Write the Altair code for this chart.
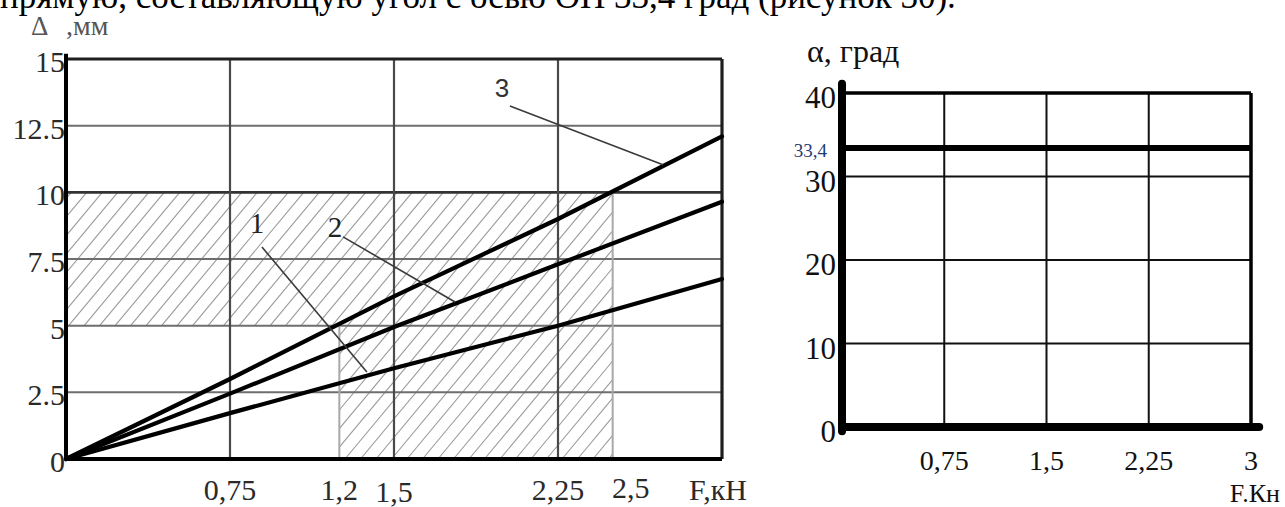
import altair as alt
import pandas as pd
import numpy as np

W, H = 1285, 507

# ---------------- data ----------------
F = [0, 0.75, 1.5, 2.25, 3.0]
delta1 = [0, 1.72, 3.4, 5.0, 6.75]
delta2 = [0, 2.45, 4.95, 7.3, 9.65]
delta3 = [0, 3.0, 6.1, 9.0, 12.1]

y_ticks_L = [0, 2.5, 5, 7.5, 10, 12.5, 15]
y_labels_L = ["0", "2.5", "5", "7.5", "10", "12.5", "15"]
x_grid_L = [0.75, 1.5, 2.25]
x_ticks_L = [0.75, 1.25, 2.25]
x_labels_L = ["0,75", "1,2", "2,25"]
zone_F = [1.25, 2.5]          # light vertical limits of the zone
zone_D = [5, 10]              # zone limits on delta axis

curve_names = ["1", "2", "3"]
curve_label_x = [0.873, 1.230, 1.994]
curve_label_y = [8.81, 8.66, 13.87]
leader_x1 = [0.896, 1.267, 2.030]
leader_y1 = [7.95, 8.33, 13.24]
leader_x2 = [1.376, 1.779, 2.730]
leader_y2 = [3.26, 5.89, 11.03]

F_alpha = [0, 3.0]
alpha = [33.4, 33.4]
y_ticks_R = [0, 10, 20, 30, 40]
y_labels_R = ["0", "10", "20", "30", "40"]
x_ticks_R = [0.75, 1.5, 2.25, 3.0]
x_labels_R = ["0,75", "1,5", "2,25", "3"]

sentence = "прямую, составляющую угол с осью ОП 33,4 град (рисунок 30)."

# ---------------- layout (pixels) ----------------
L_x0, L_x1, L_y0, L_y1 = 66, 722, 459, 59      # left plot: x at F=0/3, y at 0/15
R_x0, R_x1, R_y0, R_y1 = 842, 1251, 427, 93    # right plot: x at F=0/3, y at 0/40

sxL = (L_x1 - L_x0) / 3.0
syL = (L_y0 - L_y1) / 15.0
sxR = (R_x1 - R_x0) / 3.0
syR = (R_y0 - R_y1) / 40.0

xL = alt.Scale(domain=[-L_x0 / sxL, (W - L_x0) / sxL], nice=False, zero=False)
yL = alt.Scale(domain=[-(H - L_y0) / syL, L_y0 / syL], nice=False, zero=False)
xR = alt.Scale(domain=[-R_x0 / sxR, (W - R_x0) / sxR], nice=False, zero=False)
yR = alt.Scale(domain=[-(H - R_y0) / syR, R_y0 / syR], nice=False, zero=False)

SERIF = "Liberation Serif"
SANS = "Liberation Sans"


def rules(df, xs, ys, **kw):
    return alt.Chart(df).mark_rule(**kw).encode(
        x=alt.X("x:Q", scale=xs, axis=None),
        y=alt.Y("y:Q", scale=ys, axis=None),
        x2="x2:Q",
        y2="y2:Q",
    )


def texts(df, xs, ys, **kw):
    return alt.Chart(df).mark_text(**kw).encode(
        x=alt.X("x:Q", scale=xs, axis=None),
        y=alt.Y("y:Q", scale=ys, axis=None),
        text="t:N",
    )


# ---------------- hatch of the zone ----------------
def hatch(rects, sx, sy, m=1.2, step=15.5):
    segs = []
    pr = [(a * sx, b * sy, c * sx, d * sy) for a, b, c, d in rects]
    cmin = min(Y1 - m * X2 for X1, Y1, X2, Y2 in pr)
    cmax = max(Y2 - m * X1 for X1, Y1, X2, Y2 in pr)
    dc = m * step
    c = np.floor(cmin / dc) * dc
    while c <= cmax:
        for X1, Y1, X2, Y2 in pr:
            xa = max(X1, (Y1 - c) / m)
            xb = min(X2, (Y2 - c) / m)
            if xb > xa:
                segs.append((xa / sx, (m * xa + c) / sy, xb / sx, (m * xb + c) / sy))
        c += dc
    return pd.DataFrame(segs, columns=["x", "y", "x2", "y2"])


hatch_df = hatch([(0, zone_D[0], zone_F[1], zone_D[1]),
                  (zone_F[0], 0, zone_F[1], zone_D[0])], sxL, syL)

# ---------------- left panel ----------------
left_layers = []
left_layers.append(rules(hatch_df, xL, yL, color="#9a9a9a", strokeWidth=1.1))

hgrid = pd.DataFrame({"x": 0.0, "x2": 3.0, "y": [2.5, 5, 7.5, 12.5]})
hgrid["y2"] = hgrid["y"]
left_layers.append(rules(hgrid, xL, yL, color="#6e6e6e", strokeWidth=2))
h10 = pd.DataFrame({"x": [0.0], "x2": [3.0], "y": [10.0], "y2": [10.0]})
left_layers.append(rules(h10, xL, yL, color="#333333", strokeWidth=2.6))

vgrid = pd.DataFrame({"x": x_grid_L, "y": 0.0, "y2": 15.0})
vgrid["x2"] = vgrid["x"]
left_layers.append(rules(vgrid, xL, yL, color="#4a4a4a", strokeWidth=2.2))

vzone = pd.DataFrame({"x": zone_F, "x2": zone_F, "y": [0.0, 0.0], "y2": zone_D})
left_layers.append(rules(vzone, xL, yL, color="#a8a8a8", strokeWidth=2))

frame_thin = pd.DataFrame({"x": [0.0, 3.0], "x2": [3.0, 3.0], "y": [15.0, 0.0], "y2": [15.0, 15.0]})
left_layers.append(rules(frame_thin, xL, yL, color="#1e1e1e", strokeWidth=3.2))
frame_thick = pd.DataFrame({"x": [0.0, 0.0], "x2": [0.0, 3.0], "y": [0.0, 0.0], "y2": [15.2, 0.0]})
left_layers.append(rules(frame_thick, xL, yL, color="#000000", strokeWidth=4))

curves = pd.DataFrame({
    "F": F * 3,
    "D": delta1 + delta2 + delta3,
    "c": ["1"] * 5 + ["2"] * 5 + ["3"] * 5,
})
left_layers.append(
    alt.Chart(curves).mark_line(color="#000000", strokeWidth=4.2, strokeCap="round").encode(
        x=alt.X("F:Q", scale=xL, axis=None),
        y=alt.Y("D:Q", scale=yL, axis=None),
        detail="c:N",
    )
)

leaders = pd.DataFrame({"x": leader_x1, "y": leader_y1, "x2": leader_x2, "y2": leader_y2})
left_layers.append(rules(leaders, xL, yL, color="#3a3a3a", strokeWidth=1.6))

lab12 = pd.DataFrame({"x": curve_label_x[:2], "y": curve_label_y[:2], "t": curve_names[:2]})
left_layers.append(texts(lab12, xL, yL, font=SERIF, fontSize=29, color="#222222",
                         align="center", baseline="middle"))
lab3 = pd.DataFrame({"x": curve_label_x[2:], "y": curve_label_y[2:], "t": curve_names[2:]})
left_layers.append(texts(lab3, xL, yL, font=SANS, fontSize=26, color="#333333",
                         align="center", baseline="middle"))

ylab = pd.DataFrame({"x": 0.0, "y": y_ticks_L, "t": y_labels_L})
left_layers.append(texts(ylab, xL, yL, font=SERIF, fontSize=30, color="#2a2a2a",
                         align="right", baseline="middle", dx=-1, dy=4))

xlab = pd.DataFrame({"x": x_ticks_L, "y": 0.0, "t": x_labels_L})
left_layers.append(texts(xlab, xL, yL, font=SERIF, fontSize=30, color="#2a2a2a",
                         align="center", baseline="alphabetic", dy=41))
xlab15 = pd.DataFrame({"x": [1.5], "y": [0.0], "t": ["1,5"]})
left_layers.append(texts(xlab15, xL, yL, font=SERIF, fontSize=30, color="#2a2a2a",
                         align="center", baseline="alphabetic", dy=43))
xlab25 = pd.DataFrame({"x": [2.5], "y": [0.0], "t": ["2,5"]})
left_layers.append(texts(xlab25, xL, yL, font=SERIF, fontSize=30, color="#2a2a2a",
                         align="center", baseline="alphabetic", dx=18, dy=39))
xunit = pd.DataFrame({"x": [3.0], "y": [0.0], "t": ["F,кН"]})
left_layers.append(texts(xunit, xL, yL, font=SERIF, fontSize=30, color="#2a2a2a",
                         align="center", baseline="alphabetic", dx=-4, dy=41))

# axis title "Δ ,мм": symbol and unit drawn as two pieces to match the wide spacing
yt_sym = pd.DataFrame({"x": [0.0], "y": [15.0], "t": ["Δ"]})
left_layers.append(texts(yt_sym, xL, yL, font=SERIF, fontSize=27, color="#555555",
                         align="left", baseline="alphabetic", dx=-35, dy=-24))
yt_unit = pd.DataFrame({"x": [0.0], "y": [15.0], "t": [",мм"]})
left_layers.append(texts(yt_unit, xL, yL, font=SERIF, fontSize=28, color="#555555",
                         align="left", baseline="alphabetic", dx=0, dy=-24))

sent = pd.DataFrame({"x": [0.0], "y": [15.0], "t": [sentence]})
left_layers.append(texts(sent, xL, yL, font=SERIF, fontSize=35, color="#000000",
                         align="left", baseline="alphabetic", dx=-66, dy=-51))

left = alt.layer(*left_layers)

# ---------------- right panel ----------------
right_layers = []
vgR = pd.DataFrame({"x": x_ticks_R[:3], "y": 0.0, "y2": 40.0})
vgR["x2"] = vgR["x"]
right_layers.append(rules(vgR, xR, yR, color="#111111", strokeWidth=2))
hgR = pd.DataFrame({"x": 0.0, "x2": 3.0, "y": [10, 20, 30]})
hgR["y2"] = hgR["y"]
right_layers.append(rules(hgR, xR, yR, color="#111111", strokeWidth=2))

frR = pd.DataFrame({"x": [0.0, 3.0], "x2": [3.0, 3.0], "y": [40.0, 0.0], "y2": [40.0, 40.0]})
right_layers.append(rules(frR, xR, yR, color="#000000", strokeWidth=3.5))

aR = pd.DataFrame({"F": F_alpha, "A": alpha})
right_layers.append(
    alt.Chart(aR).mark_line(color="#000000", strokeWidth=6).encode(
        x=alt.X("F:Q", scale=xR, axis=None),
        y=alt.Y("A:Q", scale=yR, axis=None),
    )
)

axR = pd.DataFrame({"x": [0.0, 0.0], "x2": [0.0, 3.06], "y": [-0.5, 0.0], "y2": [41.1, 0.0]})
right_layers.append(rules(axR, xR, yR, color="#000000", strokeWidth=8, strokeCap="round"))

ylR = pd.DataFrame({"x": 0.0, "y": y_ticks_R, "t": y_labels_R})
right_layers.append(texts(ylR, xR, yR, font=SERIF, fontSize=31, color="#111111",
                          align="right", baseline="middle", dx=-6, dy=6))
v334 = pd.DataFrame({"x": [0.0], "y": alpha[:1], "t": ["33,4"]})
right_layers.append(texts(v334, xR, yR, font=SERIF, fontSize=19, color="#1f3b73",
                          align="right", baseline="middle", dx=-15, dy=3))
xlR = pd.DataFrame({"x": x_ticks_R, "y": 0.0, "t": x_labels_R})
right_layers.append(texts(xlR, xR, yR, font=SERIF, fontSize=28, color="#111111",
                          align="center", baseline="alphabetic", dy=43))
xuR = pd.DataFrame({"x": [3.0], "y": [0.0], "t": ["F.Кн"]})
right_layers.append(texts(xuR, xR, yR, font=SERIF, fontSize=26, color="#111111",
                          align="right", baseline="alphabetic", dx=29, dy=75))
ytR = pd.DataFrame({"x": [0.0], "y": [40.0], "t": ["α, град"]})
right_layers.append(texts(ytR, xR, yR, font=SERIF, fontSize=32, color="#111111",
                          align="left", baseline="alphabetic", dx=-35, dy=-31))

right = alt.layer(*right_layers)

chart = (
    alt.layer(left, right)
    .resolve_scale(x="independent", y="independent")
    .properties(width=W, height=H, autosize=alt.AutoSizeParams(type="none"), padding=0,
                background="white")
    .configure_view(stroke=None)
)

chart.save("out.html", embed_options={"renderer": "svg", "actions": False})
